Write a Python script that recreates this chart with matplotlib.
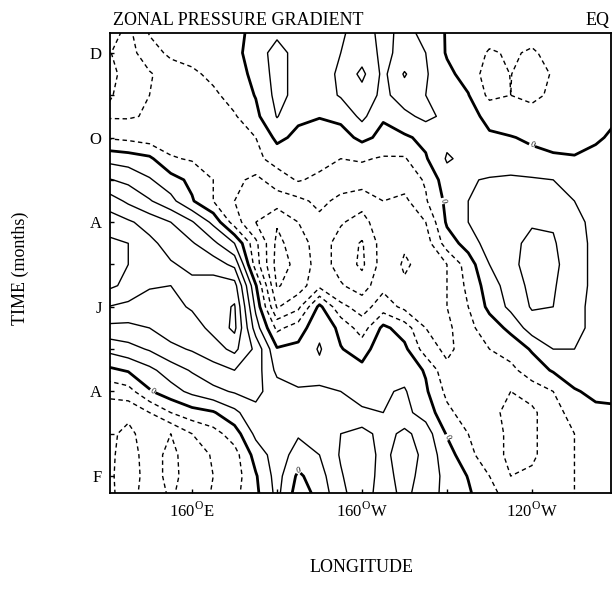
import numpy as np
import matplotlib
matplotlib.use("Agg")
import matplotlib.pyplot as plt

# ---------------- data ----------------
# longitude of grid columns (deg E)
lons = [140, 145, 150, 155, 160, 165, 170, 175, 180, 185, 190, 195, 200,
        205, 210, 215, 220, 225, 230, 235, 240, 245, 250, 255, 260]
# time of grid rows (month number, top of chart first)
months = [12.5, 12.0, 11.5, 11.0, 10.5, 10.0, 9.5, 9.0, 8.5, 8.0, 7.5, 7.0,
          6.5, 6.0, 5.5, 5.0, 4.5, 4.0, 3.5, 3.0, 2.5, 2.0, 1.5]
# zonal pressure gradient estimated at each grid node
gradient = [
 [-0.30,-0.45,-0.18,-0.14,-0.10,-0.08,-0.05, 0.05, 0.15, 0.12, 0.12, 0.18, 0.26, 0.16, 0.24, 0.16,-0.02,-0.08,-0.12,-0.15,-0.14,-0.12,-0.10,-0.10,-0.10],
 [-0.38,-0.48,-0.28,-0.16,-0.12,-0.09,-0.06, 0.10, 0.28, 0.12, 0.10, 0.20, 0.30, 0.16, 0.25, 0.20,-0.02,-0.10,-0.22,-0.18,-0.22,-0.15,-0.10,-0.08,-0.08],
 [-0.35,-0.45,-0.42,-0.30,-0.24,-0.15,-0.08, 0.05, 0.28, 0.12, 0.10, 0.24, 0.45, 0.15, 0.42, 0.22, 0.05,-0.08,-0.30,-0.195,-0.30,-0.18,-0.10,-0.08,-0.06],
 [-0.38,-0.45,-0.40,-0.36,-0.30,-0.24,-0.12, 0.01, 0.26, 0.14, 0.10, 0.22, 0.32, 0.15, 0.30, 0.20, 0.10, 0.01,-0.25,-0.20,-0.25,-0.16,-0.10,-0.06,-0.05],
 [-0.42,-0.42,-0.38,-0.36,-0.32,-0.28,-0.22,-0.05, 0.21, 0.04, 0.01, 0.05, 0.25, 0.02, 0.15, 0.25, 0.15, 0.05,-0.04,-0.12,-0.12,-0.10,-0.06,-0.03,-0.01],
 [-0.22,-0.25,-0.30,-0.30,-0.32,-0.32,-0.30,-0.20, 0.05,-0.05,-0.10,-0.08, 0.05,-0.05,-0.03, 0.05, 0.15, 0.10, 0.02, 0.01,-0.03,-0.05,-0.05,-0.02, 0.03],
 [ 0.14, 0.10, 0.04,-0.18,-0.22,-0.30,-0.32,-0.25,-0.12,-0.10,-0.12,-0.20,-0.18,-0.22,-0.22,-0.02, 0.22, 0.15, 0.05, 0.06, 0.05, 0.02, 0.01, 0.04, 0.10],
 [ 0.42, 0.35, 0.22, 0.08,-0.05,-0.20,-0.35,-0.45,-0.30,-0.18,-0.25,-0.30,-0.30,-0.30,-0.30,-0.18, 0.12, 0.18, 0.22, 0.24, 0.22, 0.20, 0.12, 0.08, 0.10],
 [ 0.72, 0.56, 0.42, 0.26, 0.02,-0.20,-0.40,-0.55,-0.50,-0.45,-0.35,-0.45,-0.52,-0.40,-0.45,-0.22, 0.05, 0.20, 0.25, 0.30, 0.32, 0.28, 0.20, 0.12, 0.10],
 [ 0.90, 0.83, 0.72, 0.60, 0.42, 0.15,-0.30,-0.60,-0.78,-0.60,-0.45,-0.58,-0.68,-0.45,-0.52,-0.40, 0.03, 0.20, 0.28, 0.32, 0.38, 0.38, 0.25, 0.15, 0.10],
 [ 1.05, 1.00, 0.85, 0.72, 0.62, 0.45, 0.20,-0.35,-0.85,-0.70,-0.50,-0.68,-0.82,-0.50,-0.58,-0.50,-0.10, 0.08, 0.30, 0.35, 0.45, 0.42, 0.28, 0.15, 0.10],
 [ 1.15, 1.00, 0.90, 0.82, 0.75, 0.70, 0.55,-0.30,-0.88,-0.75,-0.50,-0.68,-0.84,-0.50,-0.62,-0.55,-0.40,-0.10, 0.20, 0.35, 0.48, 0.45, 0.28, 0.15, 0.12],
 [ 1.05, 0.95, 0.82, 0.80, 0.85, 0.90, 0.88, 0.02,-0.82,-0.70,-0.45,-0.58,-0.70,-0.45,-0.58,-0.50,-0.40,-0.15, 0.10, 0.30, 0.45, 0.42, 0.28, 0.15, 0.12],
 [ 0.80, 0.75, 0.70, 0.75, 0.82, 0.90, 1.02, 0.15,-0.62,-0.45, 0.05,-0.35,-0.48,-0.30,-0.45,-0.45,-0.40,-0.20, 0.05, 0.25, 0.42, 0.40, 0.25, 0.15, 0.12],
 [ 0.55, 0.55, 0.60, 0.70, 0.72, 0.85, 1.05, 0.30,-0.25,-0.10, 0.15,-0.05,-0.30, 0.05,-0.10,-0.40,-0.45,-0.25,-0.10, 0.05, 0.30, 0.35, 0.25, 0.15, 0.12],
 [ 0.25, 0.33, 0.42, 0.55, 0.62, 0.72, 0.85, 0.55, 0.02, 0.05, 0.22, 0.01,-0.08, 0.12, 0.05,-0.30,-0.45,-0.30,-0.20,-0.12, 0.02, 0.20, 0.20, 0.15, 0.12],
 [-0.05, 0.02, 0.15, 0.30, 0.42, 0.52, 0.60, 0.50, 0.15, 0.12, 0.15, 0.12, 0.05, 0.12, 0.12,-0.02,-0.35,-0.35,-0.25,-0.25,-0.10, 0.02, 0.12, 0.12, 0.10],
 [-0.35,-0.28,-0.02, 0.12, 0.25, 0.35, 0.42, 0.45, 0.30, 0.22, 0.22, 0.20, 0.15, 0.18, 0.22, 0.03,-0.25,-0.35,-0.35,-0.40,-0.30,-0.20,-0.02, 0.05, 0.08],
 [-0.50,-0.55,-0.40,-0.20,-0.08,-0.02, 0.15, 0.35, 0.35, 0.25, 0.28, 0.25, 0.22, 0.20, 0.25, 0.12,-0.15,-0.30,-0.35,-0.45,-0.45,-0.25,-0.15,-0.05,-0.05],
 [-0.55,-0.65,-0.50,-0.60,-0.40,-0.28,-0.10, 0.25, 0.35, 0.22, 0.25, 0.40, 0.48, 0.32, 0.45, 0.30,-0.02,-0.20,-0.30,-0.45,-0.45,-0.25,-0.20,-0.10,-0.08],
 [-0.55,-0.68,-0.52,-0.65,-0.50,-0.38,-0.28, 0.08, 0.30, 0.12, 0.20, 0.42, 0.55, 0.32, 0.55, 0.32, 0.10,-0.15,-0.30,-0.45,-0.45,-0.25,-0.20,-0.15,-0.10],
 [-0.55,-0.70,-0.52,-0.65,-0.52,-0.40,-0.30,-0.02, 0.28,-0.04, 0.12, 0.38, 0.55, 0.30, 0.50, 0.30, 0.15,-0.01,-0.20,-0.40,-0.35,-0.25,-0.20,-0.15,-0.10],
 [-0.55,-0.68,-0.50,-0.62,-0.50,-0.38,-0.25,-0.05, 0.25,-0.12, 0.05, 0.35, 0.50, 0.30, 0.45, 0.28, 0.15, 0.04,-0.15,-0.25,-0.25,-0.25,-0.20,-0.15,-0.10],
]
neg_levels = [-1.0, -0.8, -0.6, -0.4, -0.2]
pos_levels = [0.2, 0.4, 0.6, 0.8, 1.0, 1.2, 1.4]
lon_ticks = [160, 200, 240]
lon_labels = ["160$^{\\mathrm{O}}$E", "160$^{\\mathrm{O}}$W", "120$^{\\mathrm{O}}$W"]
month_ticks = [2, 4, 6, 8, 10, 12]
month_labels = ["F", "A", "J", "A", "O", "D"]

# ---------------- figure ----------------
plt.rcParams["font.family"] = ["Liberation Serif", "DejaVu Serif"]
plt.rcParams["mathtext.fontset"] = "custom"
plt.rcParams["mathtext.rm"] = "Liberation Serif"

W, H = 612, 596
fig = plt.figure(figsize=(W / 100, H / 100), dpi=100)
ax = fig.add_axes([110 / W, 1 - 493 / H, 501 / W, (493 - 33) / H])

X, Y = np.meshgrid(np.array(lons, float), np.array(months, float))
Z = np.array(gradient, float)

ax.contour(X, Y, Z, levels=neg_levels, colors="black", linewidths=1.0,
           linestyles=[(0, (3.2, 2.4))])
ax.contour(X, Y, Z, levels=pos_levels, colors="black", linewidths=1.0,
           linestyles="solid")
cz = ax.contour(X, Y, Z, levels=[0.0], colors="black", linewidths=2.0,
                linestyles="solid")
ax.clabel(cz, fmt={0.0: "0"}, fontsize=6, inline=True, inline_spacing=1)

ax.set_xlim(140.7, 258.6)
ax.set_ylim(1.6, 12.47)

ax.set_xticks(lon_ticks)
ax.set_xticklabels(lon_labels, fontsize=12)
ax.set_xticks([180, 220], minor=True)
ax.set_yticks(month_ticks)
ax.set_yticklabels(month_labels, fontsize=12)
ax.set_yticks([3, 5, 7, 9, 11], minor=True)
ax.tick_params(which="both", direction="in", length=3, width=1.0, pad=6)
for s in ax.spines.values():
    s.set_linewidth(1.3)

fig.text(113 / W, 1 - 25 / H, "ZONAL PRESSURE GRADIENT", fontsize=13,
         ha="left", va="baseline")
fig.text(610 / W, 1 - 25 / H, "EQ", fontsize=13, ha="right", va="baseline")
fig.text(20 / W, 1 - 268 / H, "TIME (months)", fontsize=13, rotation=90,
         ha="center", va="center")
fig.text(362 / W, 1 - 568 / H, "LONGITUDE", fontsize=13, ha="center",
         va="center")

fig.savefig("out.png", dpi=100)
